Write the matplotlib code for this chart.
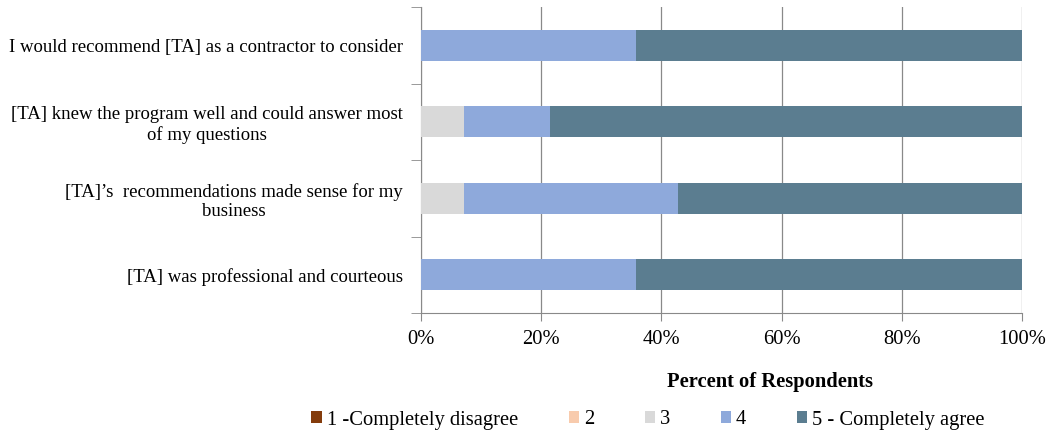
import matplotlib.pyplot as plt
import numpy as np

plt.rcParams['font.family'] = ['Liberation Serif', 'DejaVu Serif']

# statements, bottom to top
statements = [
    "[TA] was professional and courteous",
    "[TA]\u2019s  recommendations made sense for my\nbusiness",
    "[TA] knew the program well and could answer most\nof my questions",
    "I would recommend [TA] as a contractor to consider",
]
legend_labels = ["1 -Completely disagree", "2", "3", "4", "5 - Completely agree"]

# percent of respondents per rating (same order as statements)
r1 = [0.0, 0.0, 0.0, 0.0]
r2 = [0.0, 0.0, 0.0, 0.0]
r3 = [0.0, 7.1, 7.1, 0.0]
r4 = [35.7, 35.7, 14.3, 35.7]
r5 = [64.3, 57.2, 78.6, 64.3]

colors = ["#843C0C", "#F8CBAD", "#D9D9D9", "#8EA9DB", "#5B7D90"]

fig = plt.figure(figsize=(10.49, 4.34), dpi=100)
ax = fig.add_axes([421 / 1049, 1 - 313 / 434, 601 / 1049, 306 / 434])

y = np.arange(len(statements))
left = np.zeros(len(statements))
for vals, col, lab in zip([r1, r2, r3, r4, r5], colors, legend_labels):
    ax.barh(y, vals, left=left, height=0.4, color=col, label=lab, zorder=3)
    left += np.array(vals)

ax.set_xlim(0, 100)
ax.set_ylim(-0.5, len(statements) - 0.5)
ax.set_xticks(np.arange(0, 101, 20))
ax.set_xticklabels([f"{v}%" for v in range(0, 101, 20)], fontsize=14.8)
ax.set_yticks(y)
ax.set_yticklabels(statements, fontsize=13.5, ha='right', multialignment='center')
ax.tick_params(axis='y', length=0, pad=13)
ax.set_yticks(np.arange(-0.5, len(statements), 1), minor=True)
ax.tick_params(axis='y', which='minor', length=7, color='#898989', direction='out')
ax.tick_params(axis='x', length=6, color='#898989', pad=6)
ax.grid(axis='x', color='#898989', linewidth=0.9, zorder=0)

for s in ['top', 'right']:
    ax.spines[s].set_visible(False)
for s in ['left', 'bottom']:
    ax.spines[s].set_color('#898989')

ax.set_xlabel("Percent of Respondents", fontsize=14.8, fontweight='bold')
ax.xaxis.set_label_coords((770 - 421) / 601, -(382 - 313) / 306)
ax.xaxis.label.set_va('center')

fig.legend(*ax.get_legend_handles_labels(), loc='center',
           bbox_to_anchor=(648 / 1049, 1 - 420 / 434), ncol=5, frameon=False,
           fontsize=14.8, handlelength=0.5, handleheight=0.5, handletextpad=0.25,
           columnspacing=2.45)

fig.savefig("out.png", dpi=100)
